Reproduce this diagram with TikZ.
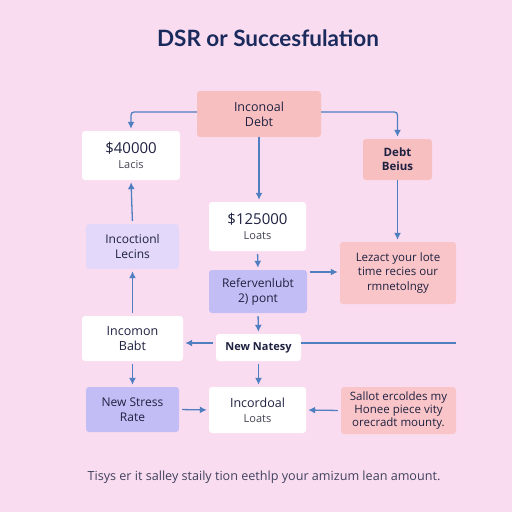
\documentclass[tikz,border=0pt]{standalone}
\usepackage{fontspec}
\setmainfont{Open Sans}
\newfontfamily\titlefont{Lato}
\usetikzlibrary{arrows.meta}
\definecolor{bgpink}{HTML}{FADCF0}
\definecolor{salmon}{HTML}{F8BFC1}
\definecolor{salmonlt}{HTML}{F9C5C8}
\definecolor{lavlt}{HTML}{E3D8F9}
\definecolor{purp}{HTML}{C3BDF5}
\definecolor{arrowblue}{HTML}{4F7FC0}
\definecolor{textdark}{HTML}{1E2140}
\definecolor{titleblue}{HTML}{1A2A5C}
\definecolor{subgray}{HTML}{444455}
\tikzset{
  box/.style={rounded corners=3pt, draw=none, align=center, text=textdark, inner sep=0pt, font=\fontsize{12.5}{15}\selectfont},
  whitebox/.style={box, fill=white},
  salbox/.style={box, fill=salmon},
  sal2box/.style={box, fill=salmonlt},
  lavbox/.style={box, fill=lavlt},
  purpbox/.style={box, fill=purp},
  arr/.style={draw=arrowblue, line width=1.3pt, -{Latex[length=7pt,width=7pt]}, shorten >=2pt, shorten <=3pt},
  ln/.style={draw=arrowblue, line width=1.3pt}
}
\begin{document}
\begin{tikzpicture}[x=1pt,y=-1pt]
\fill[bgpink] (0,0) rectangle (512,512);
\useasboundingbox (0,0) rectangle (512,512);

\node[text=titleblue, font=\titlefont\bfseries\fontsize{22.5}{26}\selectfont] (title) at (268,38) {DSR or Succesfulation};

\node[salbox, minimum width=124pt, minimum height=46pt] (inc) at (259,114) {Inconoal\\Debt};
\node[whitebox, minimum width=98pt, minimum height=49pt] (d40) at (131,155.5) {{\fontsize{15}{19}\selectfont \$40000}\\{\color{subgray}\fontsize{11}{14}\selectfont Lacis}};
\node[salbox, minimum width=69pt, minimum height=41pt, font=\bfseries\fontsize{11.5}{14}\selectfont] (dbt) at (397.5,159.5) {Debt\\Beius};
\node[whitebox, minimum width=97pt, minimum height=49pt] (d125) at (257.5,226.5) {{\fontsize{15}{19}\selectfont \$125000}\\{\color{subgray}\fontsize{11}{14}\selectfont Loats}};
\node[lavbox, minimum width=93pt, minimum height=45pt, font=\fontsize{12}{15}\selectfont] (incl) at (132.5,246.5) {Incoctionl\\Lecins};
\node[sal2box, minimum width=116pt, minimum height=62pt, font=\fontsize{11.5}{14.5}\selectfont] (lez) at (398,273) {Lezact your lote\\time recies our\\rmnetolngy};
\node[purpbox, minimum width=98pt, minimum height=43pt, font=\fontsize{12}{15}\selectfont] (ref) at (258,291.5) {Refervenlubt\\2) pont};
\node[whitebox, minimum width=85pt, minimum height=27pt, font=\bfseries\fontsize{11}{13}\selectfont] (nn) at (258.5,347.5) {New Natesy};
\node[whitebox, minimum width=101pt, minimum height=45pt] (ib) at (132.5,338.5) {Incomon\\Babt};
\node[purpbox, minimum width=93pt, minimum height=45pt, font=\fontsize{12}{15}\selectfont] (nsr) at (132.5,409.5) {New Stress\\Rate};
\node[whitebox, minimum width=97pt, minimum height=46pt] (il) at (257.5,410) {Incordoal\\{\color{subgray}\fontsize{11}{14}\selectfont Loats}};
\node[sal2box, minimum width=115pt, minimum height=47pt, font=\fontsize{11.5}{13}\selectfont] (sal) at (398.5,410.5) {Sallot ercoldes my\\Honee piece vity\\orecradt mounty.};

\node[text=textdark!85, font=\fontsize{12.6}{15}\selectfont] (foot) at (264,477) {Tisys er it salley staily tion eethlp your amizum lean amount.};

\coordinate (lineend) at (456,343);

\draw[arr, rounded corners=3pt, shorten <=0pt] (inc.west |- 0,112) -| (d40.north);
\draw[arr, rounded corners=3pt, shorten <=0pt] (inc.east |- 0,112) -| (dbt.north);
\draw[arr, shorten <=0pt] (inc.south) -- (inc.south |- d125.north);
\draw[arr] (incl.north) -- (d40.south);
\draw[arr] (ib.north) -- (incl.south);
\draw[arr, shorten <=0pt] (dbt.south) -- (dbt.south |- lez.north);
\draw[arr] (d125.south) -- (ref.north);
\draw[arr] (ref.east |- 0,272) -- (lez.west |- 0,272);
\draw[arr] (ref.south) -- (nn.north);
\draw[arr] (nn.west |- 0,343) -- (ib.east |- 0,343);
\draw[ln] (nn.east |- 0,343) -- (lineend);
\draw[arr] (ib.south) -- (nsr.north);
\draw[arr] (nn.south) -- (nn.south |- il.north);
\draw[arr] (nsr.east) -- (il.west);
\draw[arr] (sal.west) -- (il.east);
\end{tikzpicture}
\end{document}
